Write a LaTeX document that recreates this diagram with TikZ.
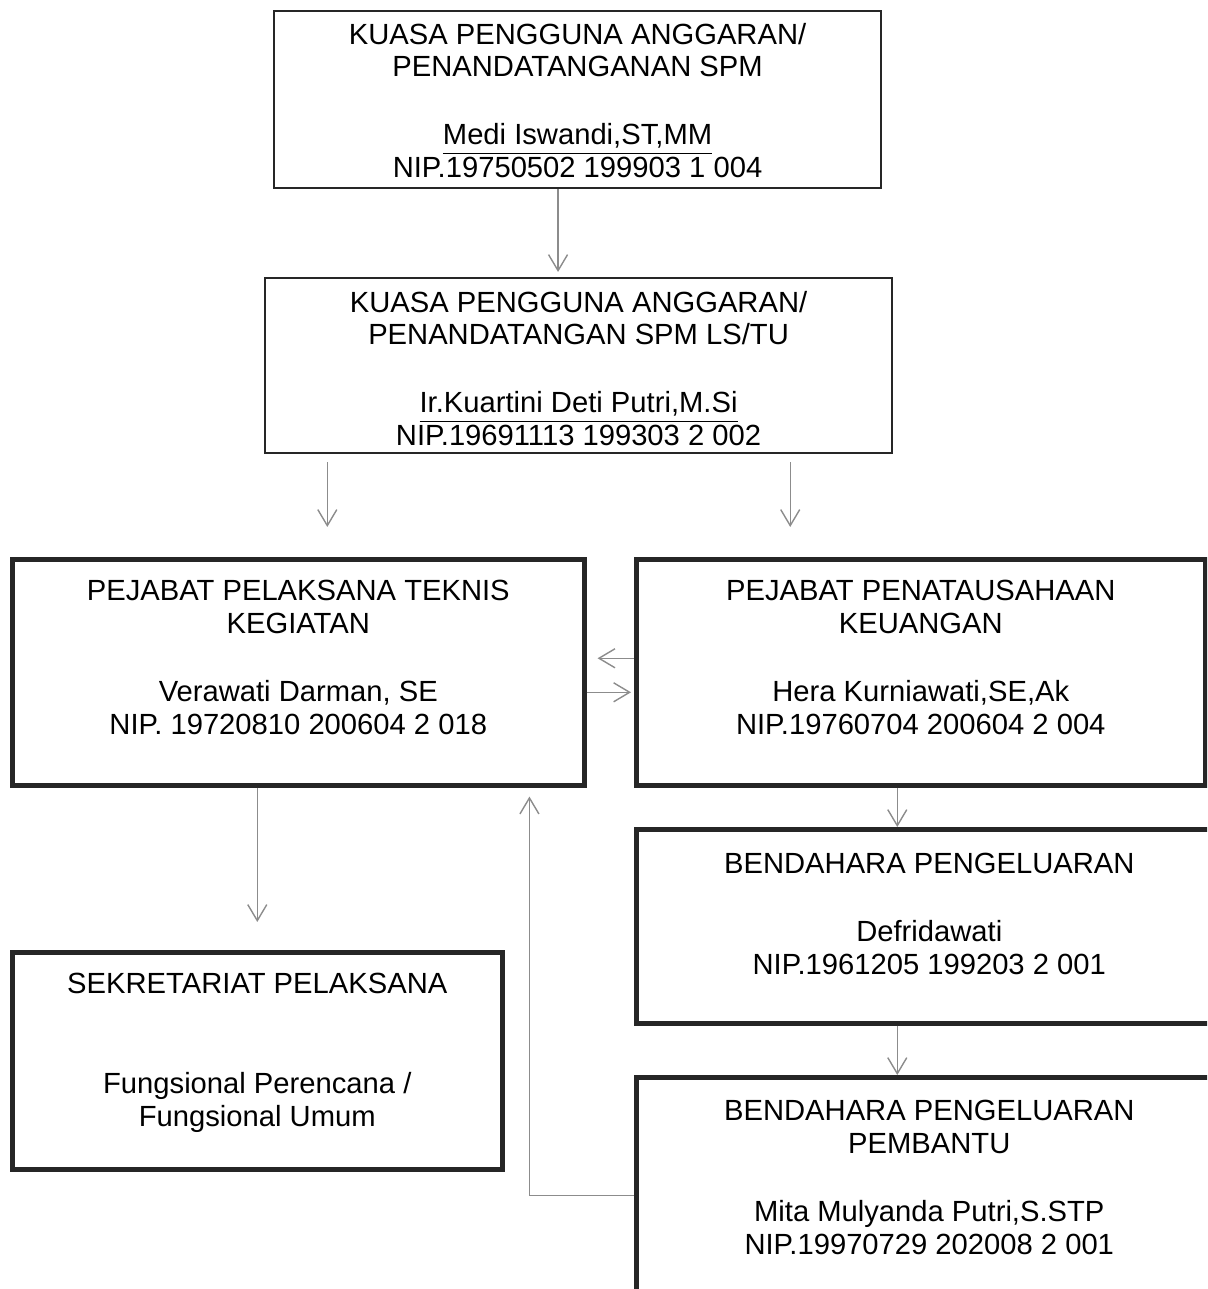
\documentclass[tikz,border=0pt]{standalone}
\usepackage{fontspec}
\setmainfont{Liberation Sans}
\usetikzlibrary{arrows.meta}

% 1px gambar = 0.01cm
\newlength{\px}\setlength{\px}{0.01cm}
% isi kotak: lebar, tinggi, jarak baris pertama dari atas, teks
\newcommand{\orgtext}[4]{\parbox[c][#2\px][t]{#1\px}{\centering\rule{0pt}{#3\px}#4}}

\begin{document}
\begin{tikzpicture}[x=0.01cm, y=-0.01cm,
    font=\fontsize{8.3}{9.36}\selectfont,
    kotak/.style={draw=black!85, line width=0.6pt, inner sep=0pt, anchor=north west},
    kotaktebal/.style={kotak, line width=1.3pt},
    panah/.style={draw=black!45, line width=0.4pt, -{Straight Barb[length=1.6mm, width=1.9mm]}}]
    \useasboundingbox (0,0) rectangle (1207,1289);
    \clip (0,0) rectangle (1207,1289);

    % KPA / penandatangan SPM
    \node[kotak] (kpa1) at (273,10) {\orgtext{607}{177}{33}{KUASA PENGGUNA ANGGARAN/\\PENANDATANGANAN SPM\\[35\px]\underline{Medi Iswandi,ST,MM}\\NIP.19750502 199903 1 004}};
    \node[kotak] (kpa2) at (264,277) {\orgtext{627}{175}{34}{KUASA PENGGUNA ANGGARAN/\\PENANDATANGAN SPM LS/TU\\[35\px]\underline{Ir.Kuartini Deti Putri,M.Si}\\NIP.19691113 199303 2 002}};

    % PPTK dan PPK
    \node[kotaktebal] (pptk) at (10,557) {\orgtext{572}{226}{41}{PEJABAT PELAKSANA TEKNIS\\KEGIATAN\\[35\px]Verawati Darman, SE\\NIP. 19720810 200604 2 018}};
    \node[kotaktebal] (ppk) at (634,557) {\orgtext{569}{226}{41}{PEJABAT PENATAUSAHAAN\\KEUANGAN\\[35\px]Hera Kurniawati,SE,Ak\\NIP.19760704 200604 2 004}};

    % bendahara
    \node[kotaktebal] (bp) at (634,827) {\orgtext{586}{194}{44}{BENDAHARA PENGELUARAN\\[35\px]Defridawati\\NIP.1961205 199203 2 001}};
    \node[kotaktebal] (bpp) at (634,1075) {\orgtext{586}{236}{43}{BENDAHARA PENGELUARAN\\PEMBANTU\\[35\px]Mita Mulyanda Putri,S.STP\\NIP.19970729 202008 2 001}};

    % sekretariat
    \node[kotaktebal] (sekr) at (10,950) {\orgtext{490}{217}{41}{SEKRETARIAT PELAKSANA\\[67\px]Fungsional Perencana /\\Fungsional Umum}};

    % panah
    \coordinate (a1) at ([xshift=-0.195cm]kpa1.south);
    \draw[panah, shorten >=0.05cm] (a1) -- (a1 |- kpa2.north);
    \coordinate (b1) at ([xshift=0.29cm]pptk.north);
    \coordinate (b2) at ([xshift=-1.305cm]ppk.north);
    \draw[panah, shorten <=0.08cm, shorten >=0.3cm] (b1 |- kpa2.south) -- (b1);
    \draw[panah, shorten <=0.08cm, shorten >=0.3cm] (b2 |- kpa2.south) -- (b2);
    \draw[panah, shorten >=0.11cm] ([yshift=0.14cm]ppk.west) -- ([yshift=0.14cm]pptk.east);
    \draw[panah, shorten >=0.03cm] ([yshift=-0.2cm]pptk.east) -- ([yshift=-0.2cm]ppk.west);
    \coordinate (c1) at ([xshift=-0.235cm]ppk.south);
    \draw[panah] (c1) -- (c1 |- bp.north);
    \draw[panah] (c1 |- bp.south) -- (c1 |- bpp.north);
    \draw[panah, shorten >=0.28cm] (pptk.south -| sekr.north) -- (sekr.north);
    \coordinate (d1) at ([xshift=2.31cm]pptk.south);
    \draw[panah, shorten >=0.09cm] (bpp.west) -| (d1);
\end{tikzpicture}
\end{document}
